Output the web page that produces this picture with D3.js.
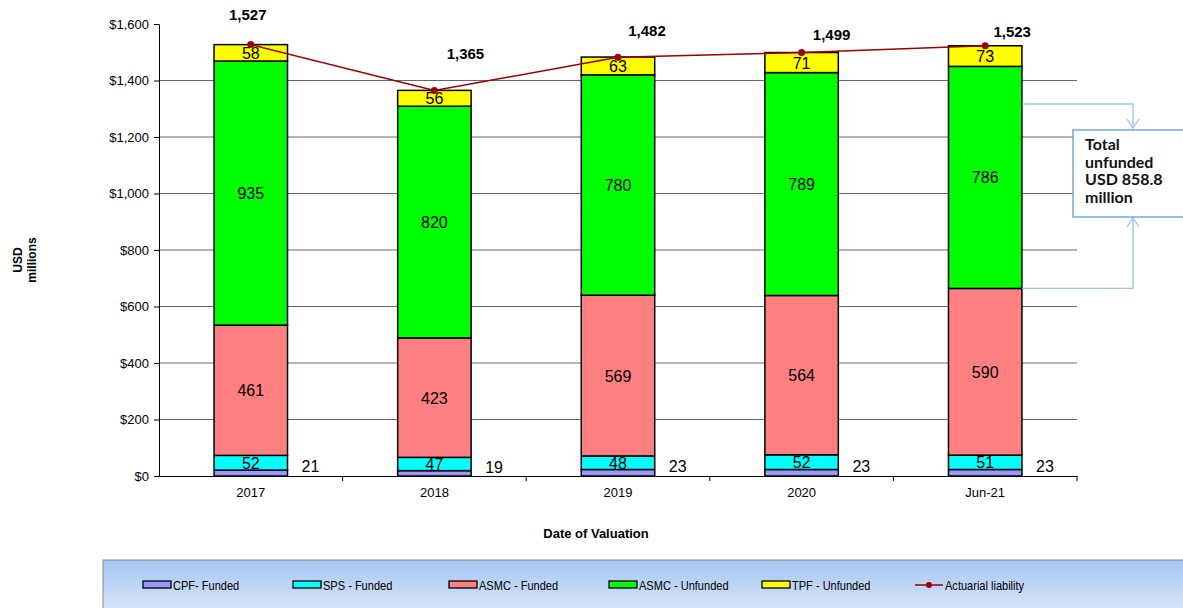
<!DOCTYPE html>
<html>
<head>
<meta charset="utf-8">
<script src="https://cdn.jsdelivr.net/npm/d3@7"></script>
<style>
  body { margin: 0; background: #fff; }
  svg { display: block; font-family: Arial, "Liberation Sans", sans-serif; }
</style>
</head>
<body>
<div id="chart"></div>
<script>
var years = ['2017', '2018', '2019', '2020', 'Jun-21'];
var cpfFunded = [21, 19, 23, 23, 23];
var spsFunded = [52, 47, 48, 52, 51];
var asmcFunded = [461, 423, 569, 564, 590];
var asmcUnfunded = [935, 820, 780, 789, 786];
var tpfUnfunded = [58, 56, 63, 71, 73];
var actuarial = [1527, 1365, 1482, 1499, 1523];
var yTicks = [0, 200, 400, 600, 800, 1000, 1200, 1400, 1600];

var seriesNames = ['CPF- Funded', 'SPS - Funded', 'ASMC - Funded', 'ASMC - Unfunded', 'TPF - Unfunded'];
var seriesColors = ['#9999ff', '#00ffff', '#ff8080', '#00ff00', '#ffff00'];
var seriesValues = [cpfFunded, spsFunded, asmcFunded, asmcUnfunded, tpfUnfunded];
// label nudges for the bold totals (Excel placed them unevenly)
var totalShift = [[-3, -25], [31, -31], [29, -21], [30, -13], [27, -9]];

var width = 1183, height = 608;
var plotL = 159, plotR = 1077, plotT = 24, plotB = 476;

var svg = d3.select('#chart').append('svg')
    .attr('width', width)
    .attr('height', height);

var x = d3.scaleBand().domain(years).range([plotL, plotR]).paddingInner(0.6).paddingOuter(0.3);
var xb = d3.scaleBand().domain(years).range([plotL, plotR]);
var y = d3.scaleLinear().domain([0, 1600]).range([plotB, plotT]);

// gridlines
svg.append('g')
    .selectAll('line')
    .data(yTicks.filter(d => d > 0 && d < 1600))
    .join('line')
    .attr('x1', plotL).attr('x2', plotR)
    .attr('y1', d => y(d)).attr('y2', d => y(d))
    .attr('stroke', '#666').attr('stroke-width', 1);

// y axis
var yAxis = svg.append('g')
    .attr('transform', `translate(${plotL},0)`)
    .call(d3.axisLeft(y).tickValues(yTicks).tickSize(5).tickSizeOuter(0).tickFormat(d => '$' + d3.format(',')(d)));
yAxis.select('.domain').attr('stroke', '#000');
yAxis.selectAll('text').attr('font-size', 13).attr('fill', '#000').attr('dx', -2);

// x axis
var xAxis = svg.append('g')
    .attr('transform', `translate(0,${plotB})`)
    .call(d3.axisBottom(xb).tickSize(0).tickSizeOuter(0));
xAxis.select('.domain').attr('stroke', '#000');
xAxis.selectAll('text').attr('font-size', 13).attr('fill', '#000').attr('dy', '1.35em');
svg.append('g')
    .selectAll('line')
    .data(years.slice(1).concat(['end']))
    .join('line')
    .attr('x1', d => d === 'end' ? plotR : xb(d))
    .attr('x2', d => d === 'end' ? plotR : xb(d))
    .attr('y1', plotB).attr('y2', plotB + 5)
    .attr('stroke', '#000');

// stacked bars
var rows = years.map((yr, i) => {
    var r = { year: yr };
    seriesNames.forEach((n, k) => { r[n] = seriesValues[k][i]; });
    return r;
});
var stacked = d3.stack().keys(seriesNames)(rows);

var layers = svg.append('g')
    .selectAll('g')
    .data(stacked)
    .join('g')
    .attr('fill', (d, i) => seriesColors[i]);

layers.selectAll('rect')
    .data(d => d)
    .join('rect')
    .attr('x', d => x(d.data.year))
    .attr('width', x.bandwidth())
    .attr('y', d => y(d[1]))
    .attr('height', d => y(d[0]) - y(d[1]))
    .attr('stroke', '#000')
    .attr('stroke-width', 1.5);

// segment labels
stacked.forEach((layer, k) => {
    svg.append('g')
        .selectAll('text')
        .data(layer)
        .join('text')
        .attr('x', d => k === 0 ? x(d.data.year) + x.bandwidth() + 23 : x(d.data.year) + x.bandwidth() / 2)
        .attr('y', d => k === 0 ? y(d[1]) + 2 : (y(d[0]) + y(d[1])) / 2 + 6)
        .attr('text-anchor', 'middle')
        .attr('font-size', 16)
        .attr('fill', '#000')
        .text(d => d[1] - d[0]);
});

// actuarial liability line
var lineGen = d3.line()
    .x((d, i) => x(years[i]) + x.bandwidth() / 2)
    .y(d => y(d));
svg.append('path')
    .datum(actuarial)
    .attr('d', lineGen)
    .attr('fill', 'none')
    .attr('stroke', '#990000')
    .attr('stroke-width', 1.5);
svg.append('g')
    .selectAll('circle')
    .data(actuarial)
    .join('circle')
    .attr('cx', (d, i) => x(years[i]) + x.bandwidth() / 2)
    .attr('cy', d => y(d))
    .attr('r', 3.5)
    .attr('fill', '#990000');
svg.append('g')
    .selectAll('text')
    .data(actuarial)
    .join('text')
    .attr('x', (d, i) => x(years[i]) + x.bandwidth() / 2 + totalShift[i][0])
    .attr('y', (d, i) => y(d) + totalShift[i][1])
    .attr('text-anchor', 'middle')
    .attr('font-size', 15)
    .attr('font-weight', 'bold')
    .text(d => d3.format(',')(d));

// axis titles
svg.append('text')
    .attr('transform', 'translate(22,260) rotate(-90)')
    .attr('text-anchor', 'middle')
    .attr('font-size', 12)
    .attr('font-weight', 'bold')
    .text('USD');
svg.append('text')
    .attr('transform', 'translate(36,260) rotate(-90)')
    .attr('text-anchor', 'middle')
    .attr('font-size', 12)
    .attr('font-weight', 'bold')
    .text('millions');
svg.append('text')
    .attr('x', 596).attr('y', 538)
    .attr('text-anchor', 'middle')
    .attr('font-size', 13)
    .attr('font-weight', 'bold')
    .text('Date of Valuation');

// annotation: total unfunded
var annColor = '#9dc3e6';
var lastX = x(years[4]) + x.bandwidth();
var yLow = y(cpfFunded[4] + spsFunded[4] + asmcFunded[4]);
var yHigh = 104;
var ann = svg.append('g').attr('fill', 'none').attr('stroke', annColor).attr('stroke-width', 1.3);
ann.append('path').attr('d', `M${lastX},${yHigh}H1133V128`);
ann.append('path').attr('d', 'M1127,119L1133,128L1139,119');
ann.append('path').attr('d', `M${lastX},${yLow}H1133V218`);
ann.append('path').attr('d', 'M1127,227L1133,218L1139,227');
svg.append('rect')
    .attr('x', 1073).attr('y', 130).attr('width', 130).attr('height', 87)
    .attr('fill', '#fff').attr('stroke', '#5b9bd5').attr('stroke-width', 1.3);
['Total', 'unfunded', 'USD 858.8', 'million'].forEach((t, i) => {
    svg.append('text')
        .attr('x', 1085).attr('y', 150 + i * 17.7)
        .attr('font-family', 'Lato, "Open Sans", sans-serif')
        .attr('font-size', 16)
        .attr('font-weight', 'bold')
        .attr('fill', '#111')
        .text(t);
});

// legend
var grad = svg.append('defs').append('linearGradient')
    .attr('id', 'legGrad').attr('x1', 0).attr('x2', 0).attr('y1', 0).attr('y2', 1);
grad.append('stop').attr('offset', '0%').attr('stop-color', '#a6c6f2');
grad.append('stop').attr('offset', '100%').attr('stop-color', '#dfeaf9');
svg.append('rect')
    .attr('x', 103).attr('y', 560).attr('width', 1100).attr('height', 60)
    .attr('fill', 'url(#legGrad)').attr('stroke', '#888');

var legX = [143, 293, 449, 609, 762];
seriesNames.forEach((n, i) => {
    svg.append('rect')
        .attr('x', legX[i]).attr('y', 581).attr('width', 28).attr('height', 7)
        .attr('fill', seriesColors[i]).attr('stroke', '#000').attr('stroke-width', 1.3);
    svg.append('text')
        .attr('transform', `translate(${legX[i] + 30},590) scale(0.85,1)`)
        .attr('font-size', 13)
        .text(n);
});
svg.append('line')
    .attr('x1', 915).attr('x2', 943).attr('y1', 585).attr('y2', 585)
    .attr('stroke', '#990000').attr('stroke-width', 1.5);
svg.append('circle').attr('cx', 929).attr('cy', 585).attr('r', 3).attr('fill', '#990000');
svg.append('text')
    .attr('transform', 'translate(945,590) scale(0.85,1)')
    .attr('font-size', 13)
    .text('Actuarial liability');
</script>
</body>
</html>
